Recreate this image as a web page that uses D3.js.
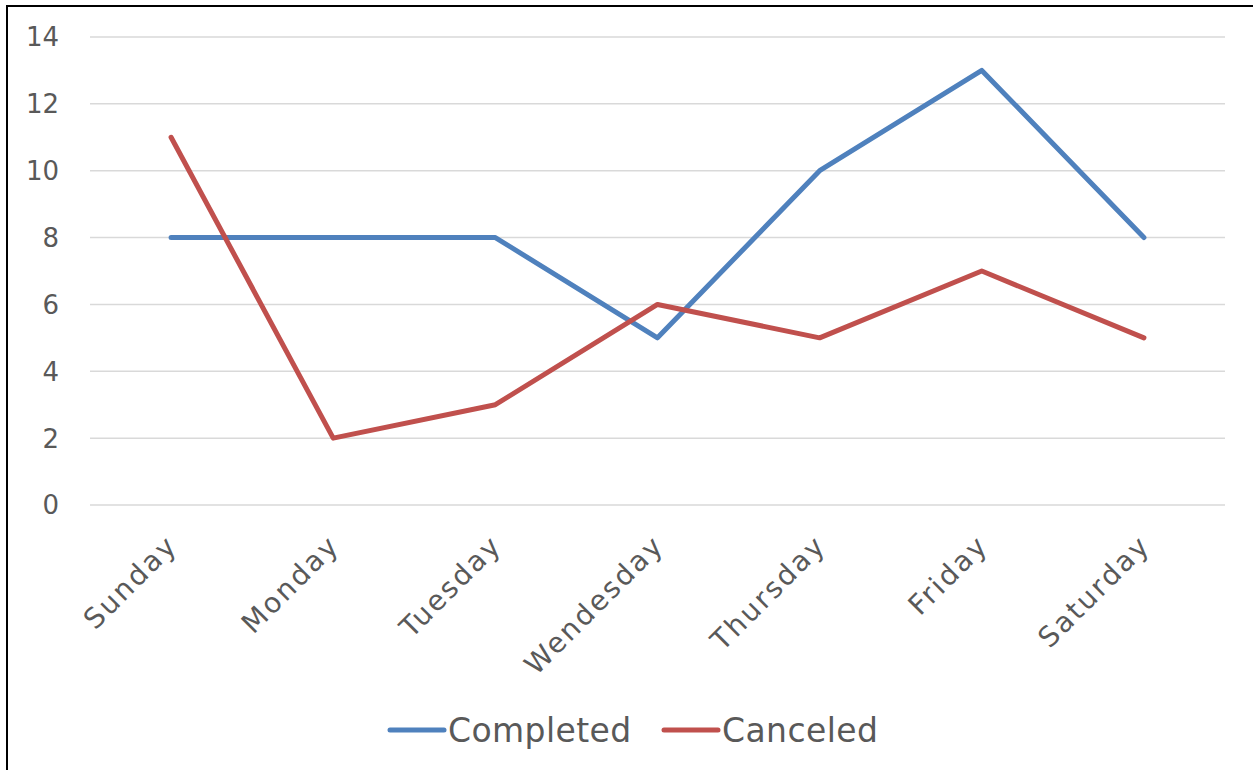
<!DOCTYPE html>
<html>
<head>
<script src="https://cdnjs.cloudflare.com/ajax/libs/d3/7.8.5/d3.min.js"></script>
<style>
  body { margin: 0; background: #fff; }
  text { font-family: "DejaVu Sans", sans-serif; fill: #595959; }
</style>
</head>
<body>
<div id="vis"></div>
<script>
  const days = ["Sunday", "Monday", "Tuesday", "Wendesday", "Thursday", "Friday", "Saturday"];
  const completed = [8, 8, 8, 5, 10, 13, 8];
  const canceled = [11, 2, 3, 6, 5, 7, 5];
  const yTicks = [0, 2, 4, 6, 8, 10, 12, 14];
  const seriesNames = ["Completed", "Canceled"];
  const colors = ["#4F81BD", "#C0504D"];

  const width = 1253, height = 770;
  const svg = d3.select("#vis").append("svg")
      .attr("width", width)
      .attr("height", height);

  // frame of the chart object
  svg.append("rect")
      .attr("x", 7).attr("y", 6)
      .attr("width", 1260).attr("height", 780)
      .attr("fill", "none")
      .attr("stroke", "#000")
      .attr("stroke-width", 2);

  const x = d3.scaleBand().domain(days).range([90, 1225]);
  const y = d3.scaleLinear().domain([0, 14]).range([505, 37]);

  // gridlines
  svg.append("g")
      .selectAll("line")
      .data(yTicks)
      .join("line")
      .attr("x1", 90).attr("x2", 1225)
      .attr("y1", d => y(d)).attr("y2", d => y(d))
      .attr("stroke", "#D9D9D9")
      .attr("stroke-width", 1.5);

  // y labels
  svg.append("g")
      .selectAll("text")
      .data(yTicks)
      .join("text")
      .attr("x", 59)
      .attr("y", d => y(d))
      .attr("dy", "0.36em")
      .attr("text-anchor", "end")
      .style("font-size", "26px")
      .text(d => d);

  // x labels, rotated
  svg.append("g")
      .selectAll("text")
      .data(days)
      .join("text")
      .attr("transform", d => "translate(" + (x(d) + x.bandwidth() / 2 + 8) + ",547) rotate(-45)")
      .attr("text-anchor", "end")
      .style("font-size", "28px")
      .style("letter-spacing", "2.3px")
      .text(d => d);

  const line = d3.line()
      .x((d, i) => x(days[i]) + x.bandwidth() / 2)
      .y(d => y(d));

  svg.append("g")
      .selectAll("path")
      .data([completed, canceled])
      .join("path")
      .attr("fill", "none")
      .attr("stroke", (d, i) => colors[i])
      .attr("stroke-width", 5)
      .attr("stroke-linecap", "round")
      .attr("stroke-linejoin", "round")
      .attr("d", line);

  // legend
  const legendX = [390, 664];
  const legend = svg.append("g")
      .selectAll("g")
      .data(seriesNames)
      .join("g")
      .attr("transform", (d, i) => "translate(" + legendX[i] + ",730)");
  legend.append("line")
      .attr("x1", 0).attr("x2", 54)
      .attr("stroke", (d, i) => colors[i])
      .attr("stroke-width", 5)
      .attr("stroke-linecap", "round");
  legend.append("text")
      .attr("x", 58)
      .attr("dy", "0.36em")
      .style("font-size", "33px")
      .style("letter-spacing", "0.4px")
      .text(d => d);
</script>
</body>
</html>
